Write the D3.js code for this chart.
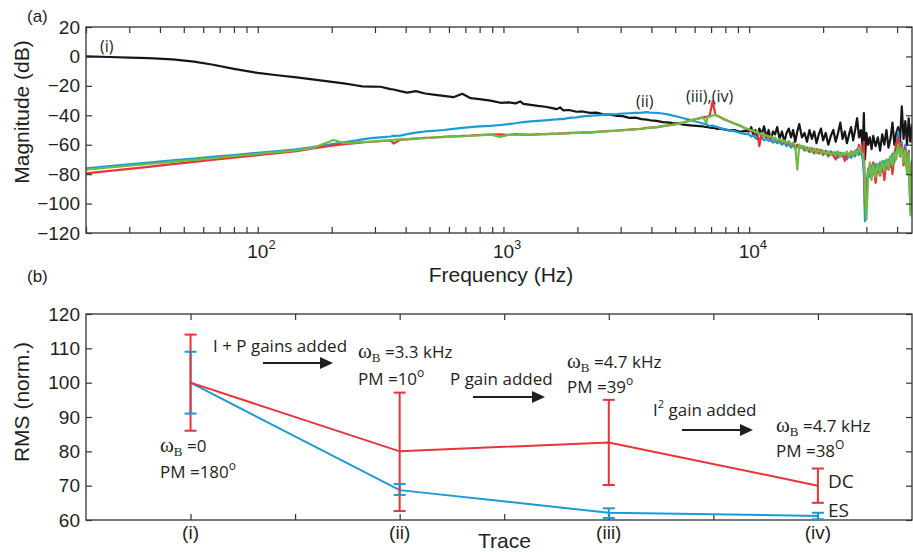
<!DOCTYPE html>
<html>
<head>
  <meta charset="utf-8">
  <style>
    body {
      margin: 0;
      background: white;
    }
    text {
      fill: #231f20;
    }
    .axis text {
      font-family: "Liberation Sans", Arial, sans-serif;
      font-size: 19px;
      fill: #231f20;
    }
    .axis line {
      stroke: #333;
      stroke-width: 1.2;
    }
    .lbl {
      font-family: "Liberation Sans", Arial, sans-serif;
      font-size: 21px;
    }
    .note {
      font-family: "Open Sans", sans-serif;
      font-size: 17px;
    }
  </style>
</head>
<body>
  <script src="https://d3js.org/d3.v7.min.js"></script>
  <script>
    // ---- panel (a): magnitude response ----
    var freqHz = [
      20, 25, 30, 36, 45, 55, 65, 80, 100, 120,
      144, 170, 204, 224, 250, 266, 290, 316, 347, 357,
      380, 406, 440, 480, 519, 570, 626, 680, 735, 800,
      885, 973,
      1050, 1120, 1170, 1205, 1290, 1380, 1480, 1580, 1650, 1700,
      1750, 1850, 1980, 2100, 2250, 2390, 2550, 2720, 2900, 3060,
      3250, 3450, 3650, 3830, 3960, 4200, 4450, 4770, 4900, 5080,
      5400, 5750, 6100, 6500, 6700, 6750, 6900, 7100, 7300, 7350,
      7600, 7860, 8300, 8700, 9200, 9600,
      10000, 10200, 10400, 10600, 10800, 11000, 11250, 11500, 11750, 12000,
      12250, 12500, 12750, 13000, 13300, 13600, 13900, 14200, 14500, 14800,
      15100, 15400, 15700, 16000, 16400, 16800, 17200, 17600, 18000, 18400,
      18800, 19200, 19600, 20000, 20500, 21000, 21500, 22000, 22500, 23000,
      23500, 24000, 24500, 25000, 25500, 26000, 26500, 27000, 27500, 28000,
      28500, 29000, 29300, 29600, 30000, 30500, 31000, 31500, 32000, 32700,
      33400, 34100, 34800, 35500, 36200, 36900, 37600, 38300, 39000, 39700,
      40400, 41100, 41800, 42500, 43200, 43900, 44600, 45300, 46000
    ];

    // trace (i)
    var magI = [
      0, -0.4, -0.8, -1.2, -2, -3.5, -5.5, -8.5, -11.2, -12.8,
      -14.2, -15.8, -17.5, -18.3, -19.6, -20.4, -20.5, -20.6, -22.2, -22.5,
      -23.6, -24.6, -23.6, -25.2, -25.9, -26.8, -27.7, -25.4, -28.4, -29.0,
      -30.0, -31.5,
      -31.2, -31.9, -30.6, -32.3, -32.9, -33.6, -34.2, -35.1, -35.8, -34.6,
      -36.6, -36.4, -37.6, -37.4, -38.4, -38.2, -39.4, -39.6, -40.4, -40.6,
      -41.8, -41.6, -42.6, -42.9, -43.4, -43.8, -44.6, -45.0, -45.5, -45.4,
      -46.4, -46.8, -47.2, -47.6, -48.0, -47.8, -48.4, -48.6, -48.8, -49.2,
      -49.0, -49.6, -50.2, -50.0, -51.2, -50.6,
      -51, -48, -54, -50, -56, -49, -53, -47.5, -55, -50,
      -57, -51, -53, -48, -56, -51, -58, -52, -49, -55,
      -50, -58, -51, -46, -55, -52, -58, -50, -56, -51,
      -59, -53, -49, -57, -52, -60, -54, -50, -58, -52,
      -45, -56, -51, -59, -53, -48, -57, -50, -42, -55,
      -50, -62, -38.5, -70, -52, -60, -55, -63, -54, -61,
      -55, -64, -53, -60, -50, -62, -56, -45, -60, -52,
      -48, -58, -34, -56, -44, -60, -42, -58, -46
    ];

    // trace (ii)
    var magII = [
      -76, -74.5, -73.4, -72.2, -70.7, -69.4, -68.3, -67.0, -65.5, -64.3,
      -63.1, -61.4, -59.4, -58.4, -57.2, -56.4, -55.5, -55.0, -54.4, -54.0,
      -53.8, -52.8, -51.8, -51.0, -50.6, -50.0, -49.2, -48.6, -48.0, -47.6,
      -47.2, -46.6,
      -46.0, -45.4, -44.9, -44.6, -44.2, -43.8, -43.4, -43.0, -42.8, -42.4,
      -42.6, -41.8, -41.4, -40.8, -40.3, -40.0, -39.6, -39.4, -39.2, -38.8,
      -38.6, -38.4, -38.2, -37.8, -38.2, -38.4, -38.8, -39.7, -40.2, -40.8,
      -42.0, -43.0, -44.4, -45.6, -46.2, -46.4, -47.4, -47.0, -48.0, -47.6,
      -48.6, -49.2, -50.2, -50.8, -52.0, -52.6,
      -53, -54.5, -53.5, -55.5, -54.5, -56, -55, -57, -56, -57.5,
      -56.5, -58.5, -57.5, -59, -58, -60, -58.5, -61, -59.5, -62,
      -60, -63, -60.5, -62.5, -61, -64, -62, -65, -62.5, -66,
      -63, -65.5, -63.5, -67, -64, -68, -64.5, -67, -65, -69,
      -65.5, -68, -66, -70, -66.5, -69, -65, -68, -63, -67,
      -64, -70, -80, -112, -88, -76, -82, -74, -80, -73,
      -79, -72, -78, -71, -76, -70, -75, -66, -72, -62,
      -51, -66, -58, -70, -60, -76, -64, -105, -70
    ];

    // trace (iii)
    var magIII = [
      -79.5, -77.8, -76.4, -75.0, -73.2, -71.7, -70.4, -68.8, -67.1, -65.7,
      -64.3, -62.4, -60.4, -59.6, -58.9, -58.5, -58.0, -57.6, -57.0, -59.2,
      -56.6, -56.4, -55.8, -55.4, -55.2, -54.6, -54.4, -54.0, -53.8, -53.4,
      -53.2, -53.0,
      -53.4, -52.8, -53.2, -53.0, -53.4, -52.8, -52.8, -52.4, -52.6, -52.2,
      -52.4, -52.0, -52.0, -51.6, -51.8, -51.2, -51.0, -50.6, -50.4, -50.0,
      -49.8, -49.4, -49.2, -48.6, -48.4, -48.0, -47.4, -46.6, -46.4, -45.8,
      -44.8, -43.6, -42.4, -41.4, -41.0, -40.8, -40.6, -30.5, -39.8, -40.2,
      -41.2, -42.6, -44.2, -45.6, -47.2, -48.8,
      -50, -51, -50.5, -52, -51.5, -61, -52.5, -54.5, -53.5, -55.5,
      -54.5, -56.5, -55.5, -57.5, -56.5, -58.5, -57.5, -59.5, -58, -60.5,
      -59, -61.5, -60, -62, -61, -63, -62, -64.5, -62.5, -65.5,
      -63, -66, -63.5, -66.5, -64.5, -67, -65, -67.5, -70, -65,
      -68, -65.5, -71, -65, -68, -64.5, -67.5, -64, -66, -60,
      -63, -68, -58, -100, -104, -78, -74, -82, -72, -86,
      -74, -81, -72, -84, -71, -77, -68, -80, -66, -60,
      -55, -68, -60, -74, -62, -78, -65, -100, -72
    ];

    // trace (iv)
    var magIV = [
      -77, -75.5, -74.3, -73.1, -71.6, -70.3, -69.2, -67.8, -66.3, -65.1,
      -63.9, -61.8, -56.8, -58.8, -58.6, -58.2, -57.8, -57.4, -57.0, -56.6,
      -56.4, -56.2, -55.6, -55.6, -55.0, -54.8, -54.2, -54.4, -53.9, -53.6,
      -53.0, -54.8,
      -53.2, -53.4, -53.0, -53.4, -53.0, -53.2, -52.6, -52.8, -52.4, -52.6,
      -52.2, -52.4, -51.8, -52.0, -51.6, -51.4, -51.0, -50.8, -50.4, -50.2,
      -49.8, -49.6, -49.0, -48.8, -48.4, -48.2, -47.4, -46.8, -46.4, -46.0,
      -45.0, -43.6, -42.6, -41.6, -45.2, -41.2, -41.0, -40.2, -39.6, -40.0,
      -41.2, -42.4, -44.0, -45.6, -47.0, -48.6,
      -49.5, -50.5, -50, -51.5, -51, -53, -52, -54, -53.5, -55,
      -54, -56, -55, -57, -56, -58, -57, -59, -57.5, -60,
      -58.5, -61, -77, -60, -62.5, -61, -64, -62, -65, -62.5,
      -65.5, -63, -66, -64, -66.5, -64.5, -67, -65, -67.5, -64.5,
      -68, -65.5, -67, -64.5, -68, -65, -67.5, -64, -66.5, -62,
      -65, -66, -72, -90, -111, -80, -72, -84, -74, -82,
      -73, -80, -71, -78, -70, -76, -68, -74, -65, -70,
      -60, -67, -62, -72, -64, -80, -66, -108, -74
    ];

    var magTicks = [-120, -100, -80, -60, -40, -20, 0, 20];
    var decades = [100, 1000, 10000];

    // ---- panel (b): RMS per trace ----
    var traceX = [1, 2, 3, 4];
    var traceLabels = ["(i)", "(ii)", "(iii)", "(iv)"];
    var rmsDC = [100, 80, 82.6, 70];
    var dcLow = [86, 62.6, 70.2, 65];
    var dcHigh = [114, 97.1, 95, 75];
    var rmsES = [100, 68.7, 62.1, 61.2];
    var esLow = [91, 67.3, 60.6, 60.2];
    var esHigh = [109, 70.5, 63.4, 62.1];
    var rmsTicks = [60, 70, 80, 90, 100, 110, 120];
    var traceTicks = [1, 1.5, 2, 2.5, 3, 3.5, 4];

    var colI = "#161616", colII = "#1c9ad6", colIII = "#ed3237", colIV = "#6cbd45";

    var width = 913, height = 552;
    var svg = d3.select("body").append("svg")
        .attr("width", width).attr("height", height);

    var xA = d3.scaleLog().domain([20, 46000]).range([86, 912]);
    var yA = d3.scaleLinear().domain([-120, 20]).range([233, 27]);

    svg.append("clipPath").attr("id", "clipA")
      .append("rect").attr("x", 86).attr("y", 27).attr("width", 826).attr("height", 206);

    var line = d3.line()
        .x((d, i) => xA(freqHz[i]))
        .y(d => yA(d));

    var curves = svg.append("g").attr("clip-path", "url(#clipA)");
    [[magI, colI], [magII, colII], [magIII, colIII], [magIV, colIV]].forEach(s => {
      curves.append("path")
          .attr("d", line(s[0]))
          .attr("fill", "none")
          .attr("stroke", s[1])
          .attr("stroke-width", 2.2)
          .attr("stroke-linejoin", "round");
    });

    function noDomain(g) { g.select(".domain").remove(); }

    svg.append("g").attr("class", "axis").attr("transform", "translate(0,233)")
        .call(d3.axisBottom(xA).tickSize(-6).tickSizeOuter(0).tickFormat(""))
        .call(noDomain);
    svg.append("g").attr("class", "axis").attr("transform", "translate(0,27)")
        .call(d3.axisTop(xA).tickSize(-6).tickSizeOuter(0).tickFormat(""))
        .call(noDomain);
    svg.append("g").attr("class", "axis").attr("transform", "translate(86,0)")
        .call(d3.axisLeft(yA).tickValues(magTicks).tickSize(-6).tickSizeOuter(0).tickPadding(6))
        .call(noDomain);
    svg.append("g").attr("class", "axis").attr("transform", "translate(912,0)")
        .call(d3.axisRight(yA).tickValues(magTicks).tickSize(-6).tickSizeOuter(0).tickFormat(""))
        .call(noDomain);
    svg.append("rect").attr("x", 86).attr("y", 27).attr("width", 826).attr("height", 206)
        .attr("fill", "none").attr("stroke", "#333").attr("stroke-width", 1.3);

    // decade labels 10^n
    decades.forEach(d => {
      var t = svg.append("text").attr("class", "axis")
          .attr("x", xA(d) - 10.5).attr("y", 258)
          .style("font-family", "'Liberation Sans', Arial, sans-serif")
          .style("font-size", "19px");
      t.append("tspan").text("10");
      t.append("tspan").attr("dy", -9).style("font-size", "13px").text(Math.round(Math.log10(d)));
    });

    svg.append("text").attr("class", "lbl")
        .attr("x", 501).attr("y", 282).attr("text-anchor", "middle")
        .text("Frequency (Hz)");
    svg.append("text").attr("class", "lbl")
        .attr("transform", "translate(29,112) rotate(-90)").attr("text-anchor", "middle")
        .text("Magnitude (dB)");
    svg.append("text").attr("class", "lbl").style("font-size", "17px")
        .attr("x", 27).attr("y", 22).text("(a)");

    svg.append("text").attr("class", "note").style("font-size", "16px")
        .attr("x", 100).attr("y", 52).text("(i)");
    svg.append("text").attr("class", "note").style("font-size", "16px")
        .attr("x", 636).attr("y", 107).text("(ii)");
    svg.append("text").attr("class", "note").style("font-size", "16px")
        .attr("x", 686).attr("y", 102).text("(iii),(iv)");

    // ---- panel (b) ----
    var xB = d3.scaleLinear().domain([0.5, 4.45]).range([86, 912]);
    var yB = d3.scaleLinear().domain([60, 120]).range([520, 314]);

    svg.append("g").attr("class", "axis").attr("transform", "translate(0,520)")
        .call(d3.axisBottom(xB).tickValues(traceTicks).tickSize(-6).tickSizeOuter(0).tickFormat(""))
        .call(noDomain);
    svg.append("g").attr("class", "axis").attr("transform", "translate(0,314)")
        .call(d3.axisTop(xB).tickValues(traceTicks).tickSize(-6).tickSizeOuter(0).tickFormat(""))
        .call(noDomain);
    svg.append("g").attr("class", "axis").attr("transform", "translate(86,0)")
        .call(d3.axisLeft(yB).tickValues(rmsTicks).tickSize(-6).tickSizeOuter(0).tickPadding(6))
        .call(noDomain);
    svg.append("g").attr("class", "axis").attr("transform", "translate(912,0)")
        .call(d3.axisRight(yB).tickValues(rmsTicks).tickSize(-6).tickSizeOuter(0).tickFormat(""))
        .call(noDomain);
    svg.append("rect").attr("x", 86).attr("y", 314).attr("width", 826).attr("height", 206)
        .attr("fill", "none").attr("stroke", "#333").attr("stroke-width", 1.3);

    traceX.forEach((d, i) => {
      svg.append("text").attr("class", "axis")
          .attr("x", xB(d)).attr("y", 539).attr("text-anchor", "middle")
          .style("font-family", "'Liberation Sans', Arial, sans-serif")
          .style("font-size", "19px")
          .text(traceLabels[i]);
    });

    var lineB = d3.line().x((d, i) => xB(traceX[i])).y(d => yB(d));

    function trend(vals, col) {
      svg.append("path").attr("d", lineB(vals))
          .attr("fill", "none").attr("stroke", col).attr("stroke-width", 2);
    }
    function stems(lo, hi, col) {
      var g = svg.append("g").attr("stroke", col).attr("stroke-width", 2);
      traceX.forEach((d, i) => {
        g.append("line").attr("x1", xB(d)).attr("x2", xB(d)).attr("y1", yB(lo[i])).attr("y2", yB(hi[i]));
      });
    }
    function caps(lo, hi, col) {
      var g = svg.append("g").attr("stroke", col).attr("stroke-width", 2);
      traceX.forEach((d, i) => {
        var x = xB(d);
        [lo[i], hi[i]].forEach(v => {
          g.append("line").attr("x1", x - 6).attr("x2", x + 6).attr("y1", yB(v)).attr("y2", yB(v));
        });
      });
    }
    trend(rmsES, colII);
    stems(esLow, esHigh, colII);
    trend(rmsDC, colIII);
    stems(dcLow, dcHigh, colIII);
    caps(dcLow, dcHigh, colIII);
    caps(esLow, esHigh, colII);

    svg.append("text").attr("class", "lbl")
        .attr("x", 478).attr("y", 548).text("Trace");
    svg.append("text").attr("class", "lbl")
        .attr("transform", "translate(29,402) rotate(-90)").attr("text-anchor", "middle")
        .text("RMS (norm.)");
    svg.append("text").attr("class", "lbl").style("font-size", "17px")
        .attr("x", 27).attr("y", 282).text("(b)");

    // annotations
    function note(x, y, parts) {
      var t = svg.append("text").attr("class", "note").attr("x", x).attr("y", y);
      parts.forEach(p => {
        var s = t.append("tspan").text(p.t);
        if (p.dy) s.attr("dy", p.dy);
        if (p.size) s.style("font-size", p.size + "px");
        if (p.serif) s.style("font-family", "'Liberation Serif', serif");
      });
    }
    function omega(x, y, rest) {
      note(x, y, [
        {t: "\u03c9", serif: true, size: 21},
        {t: "B", serif: true, size: 13, dy: 4},
        {t: " =" + rest, dy: -4}
      ]);
    }
    function pm(x, y, val, sup) {
      note(x, y, [{t: "PM =" + val}, {t: sup, size: 12, dy: -8}]);
    }
    function arrow(x1, x2, y) {
      svg.append("line").attr("x1", x1).attr("x2", x2 - 8).attr("y1", y).attr("y2", y)
          .attr("stroke", "#231f20").attr("stroke-width", 2);
      svg.append("path")
          .attr("d", "M" + x2 + "," + y + "L" + (x2 - 13) + "," + (y - 6) + "L" + (x2 - 13) + "," + (y + 6) + "Z")
          .attr("fill", "#231f20");
    }

    note(213, 352, [{t: "I + P gains added"}]);
    arrow(263, 333, 363);
    omega(358, 358, "3.3 kHz");
    pm(358, 385, "10", "o");

    omega(160, 452, "0");
    pm(160, 478, "180", "o");

    note(450, 385, [{t: "P gain added"}]);
    arrow(473, 545, 397);
    omega(567, 368, "4.7 kHz");
    pm(567, 393, "39", "o");

    note(653, 416, [{t: "I"}, {t: "2", size: 11, dy: -8}, {t: " gain added", dy: 8}]);
    arrow(682, 753, 430);
    omega(776, 432, "4.7 kHz");
    pm(776, 457, "38", "O");

    svg.append("text").attr("class", "note").style("font-size", "19px")
        .attr("x", 828).attr("y", 488).text("DC");
    svg.append("text").attr("class", "note").style("font-size", "19px")
        .attr("x", 828).attr("y", 517).text("ES");
  </script>
</body>
</html>
